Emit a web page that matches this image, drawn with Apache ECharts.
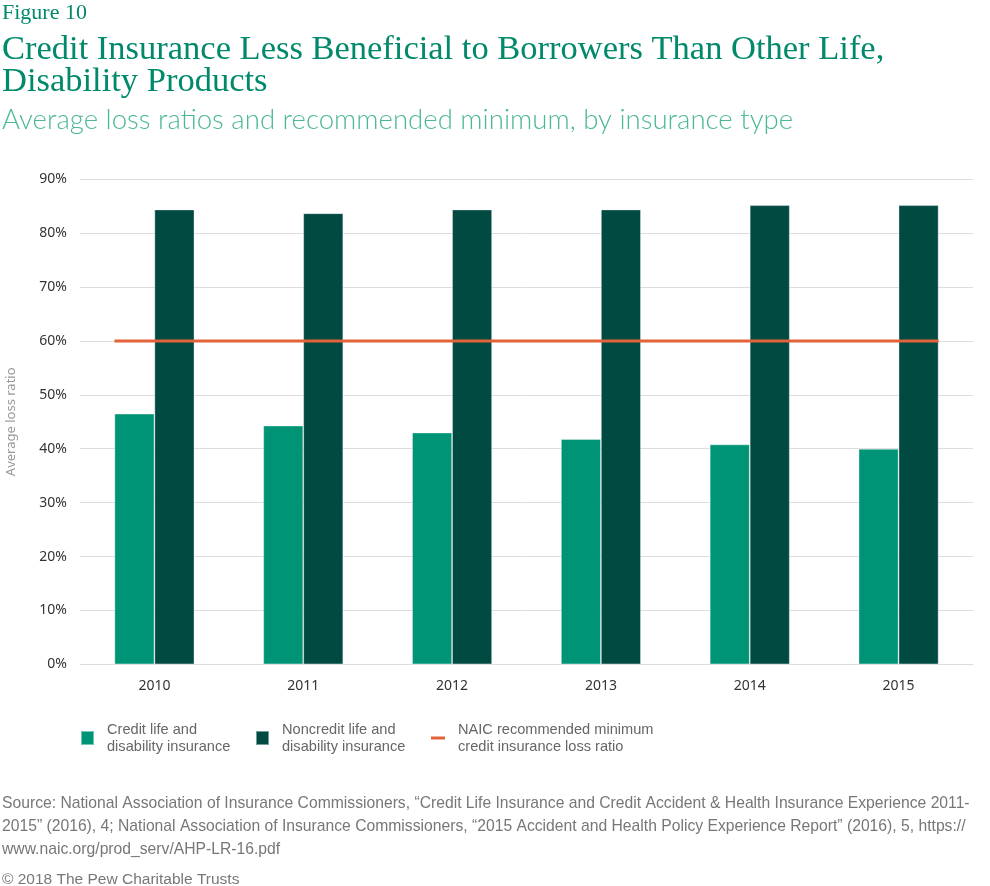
<!DOCTYPE html>
<html><head><meta charset="utf-8">
<script src="https://cdn.jsdelivr.net/npm/echarts@6/dist/echarts.min.js"></script>
<style>html,body{margin:0;padding:0;background:#fff}#c{width:990px;height:886px}</style>
</head><body><div id="c"></div>
<script>
const years = ['2010','2011','2012','2013','2014','2015'];
const creditLife = [46.5, 44.3, 43.0, 41.8, 40.8, 40.0];
const noncreditLife = [84.4, 83.7, 84.4, 84.4, 85.2, 85.2];
const naicMinimum = [60, 60, 60, 60, 60, 60];
const yTicks = [0,10,20,30,40,50,60,70,80,90];

const GRID_LEFT = 80, GRID_RIGHT = 17, BAR_W = 40;
const plotW = 990 - GRID_LEFT - GRID_RIGHT;
const half = BAR_W / (plotW / years.length); // half group width in category units
const lineData = naicMinimum.map((v, i) => {
  let x = i + 0.5;
  if (i === 0) x -= half;
  if (i === naicMinimum.length - 1) x += half;
  return [x, v];
});

const names = ['Credit life and\ndisability insurance','Noncredit life and\ndisability insurance','NAIC recommended minimum\ncredit insurance loss ratio'];
const legText = {fontFamily:'Liberation Sans Narrow, Liberation Sans, sans-serif', fontSize:14.6, color:'#666', lineHeight:17, padding:[0,0,0,8]};
const chart = echarts.init(document.getElementById('c'), null, {renderer:'canvas'});
chart.setOption({
  animation:false,
  title:[
    {text:'Figure 10', left:0, top:0, padding:[2,2,2,2], textStyle:{fontFamily:'Liberation Serif, serif', fontWeight:'normal', fontSize:22, color:'#00896B'}},
    {text:'Credit Insurance Less Beneficial to Borrowers Than Other Life,\nDisability Products', left:0, top:32, padding:[2,2,2,2], textStyle:{fontFamily:'Liberation Serif, serif', fontWeight:'normal', fontSize:34.5, lineHeight:32, color:'#00896B'}},
    {text:'Average loss ratios and recommended minimum, by insurance type', left:0, top:104, padding:[2,2,2,2], textStyle:{fontFamily:'Lato, sans-serif', fontWeight:300, fontSize:27.6, color:'#4DB898'}},
    {text:'Source: National Association of Insurance Commissioners, \u201cCredit Life Insurance and Credit Accident & Health Insurance Experience 2011-\n2015\u201d (2016), 4; National Association of Insurance Commissioners, \u201c2015 Accident and Health Policy Experience Report\u201d (2016), 5, https://\nwww.naic.org/prod_serv/AHP-LR-16.pdf', left:0, top:792, padding:[0,2,0,2], textStyle:{fontFamily:'Liberation Sans Narrow, Liberation Sans, sans-serif', fontWeight:'normal', fontSize:15.7, lineHeight:23, color:'#777'}},
    {text:'\u00a9 2018 The Pew Charitable Trusts', left:0, top:872, padding:[0,2,0,2], textStyle:{fontFamily:'Liberation Sans Narrow, Liberation Sans, sans-serif', fontWeight:'normal', fontSize:15.5, color:'#777'}}
  ],
  legend:[
    {data:[names[0]], left:80, top:721, padding:0, itemWidth:13, itemHeight:14, icon:'rect', textStyle:legText, selectedMode:false},
    {data:[names[1]], left:255, top:721, padding:0, itemWidth:13, itemHeight:14, icon:'rect', textStyle:legText, selectedMode:false},
    {data:[{name:names[2], icon:'rect', itemStyle:{color:'#E2623A'}}], left:431, top:721, padding:0, itemWidth:14, itemHeight:3, textStyle:legText, selectedMode:false}
  ],
  grid:{left:GRID_LEFT, right:GRID_RIGHT, top:179.3, bottom:886-664.3, containLabel:false, outerBoundsMode:'none'},
  xAxis:[
    {type:'category', data:years, axisLine:{show:true, lineStyle:{color:'#ddd'}}, axisTick:{show:false},
     axisLabel:{color:'#333', fontFamily:'Noto Sans, sans-serif', fontSize:14, margin:15}},
    {type:'value', min:0, max:years.length, show:false}
  ],
  yAxis:{type:'value', min:yTicks[0], max:yTicks[yTicks.length-1], interval:10,
    name:'Average loss ratio', nameLocation:'middle', nameGap:62, nameRotate:90,
    nameTextStyle:{color:'#999', fontFamily:'Noto Sans, sans-serif', fontSize:13},
    axisLabel:{formatter:'{value}%', color:'#333', fontFamily:'Noto Sans, sans-serif', fontSize:14, margin:13},
    splitLine:{lineStyle:{color:'#ddd', width:1}}, axisLine:{show:false}, axisTick:{show:false}},
  series:[
    {name:names[0], type:'bar', data:creditLife, barWidth:BAR_W, barGap:'0%', itemStyle:{color:'#009477', borderColor:'rgba(255,255,255,0.45)', borderWidth:0.8}},
    {name:names[1], type:'bar', data:noncreditLife, barWidth:BAR_W, barGap:'0%', itemStyle:{color:'#004A42', borderColor:'rgba(255,255,255,0.45)', borderWidth:0.8}},
    {name:names[2], type:'line', xAxisIndex:1, data:lineData, symbol:'none', lineStyle:{color:'#E2623A', width:3}, itemStyle:{color:'#E2623A'}, z:5}
  ]
});
</script></body></html>
